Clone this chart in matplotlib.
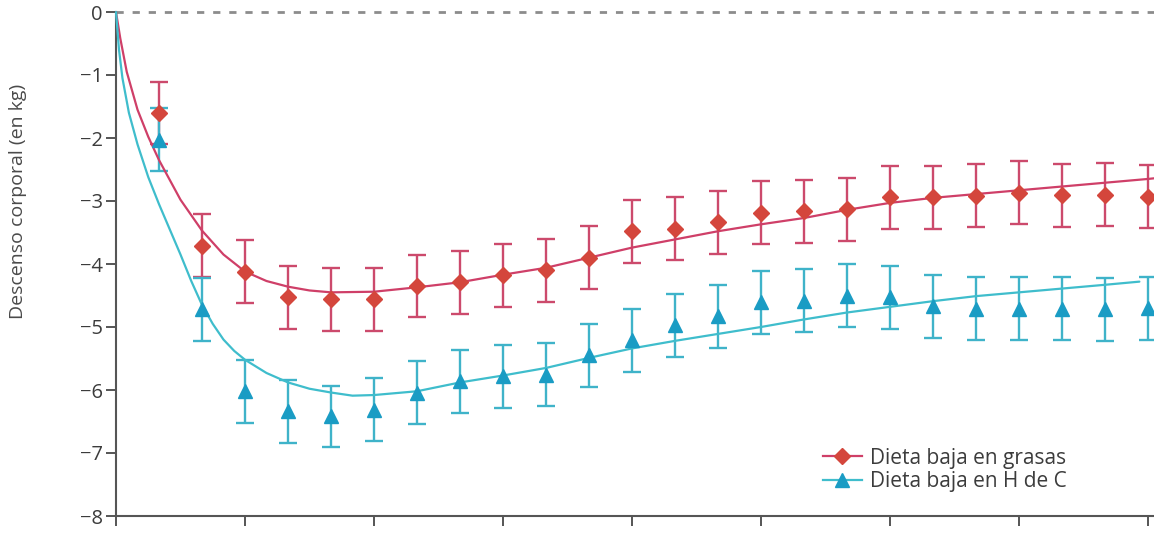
import matplotlib
matplotlib.use('Agg')
import matplotlib.pyplot as plt
from matplotlib.lines import Line2D

# ---- data ----
months = [1, 2, 3, 4, 5, 6, 7, 8, 9, 10, 11, 12,
          13, 14, 15, 16, 17, 18, 19, 20, 21, 22, 23, 24]
low_fat = [-1.60, -3.71, -4.12, -4.53, -4.56, -4.56, -4.35, -4.29, -4.18, -4.10, -3.90, -3.48,
           -3.44, -3.34, -3.19, -3.16, -3.13, -2.94, -2.94, -2.92, -2.87, -2.91, -2.90, -2.93]
low_fat_err = [0.49, 0.50, 0.50, 0.50, 0.50, 0.50, 0.49, 0.50, 0.50, 0.50, 0.50, 0.50,
               0.50, 0.50, 0.50, 0.50, 0.50, 0.50, 0.50, 0.50, 0.50, 0.50, 0.50, 0.50]
low_carb = [-2.03, -4.72, -6.02, -6.34, -6.42, -6.31, -6.04, -5.86, -5.78, -5.76, -5.45, -5.21,
            -4.97, -4.83, -4.61, -4.58, -4.50, -4.53, -4.67, -4.71, -4.71, -4.71, -4.72, -4.70]
low_carb_err = [0.50, 0.50, 0.50, 0.50, 0.48, 0.50, 0.50, 0.50, 0.50, 0.50, 0.50, 0.50,
                0.50, 0.50, 0.50, 0.50, 0.50, 0.50, 0.50, 0.50, 0.50, 0.50, 0.50, 0.50]

# fitted curves
fat_fit_x = [0, 0.1, 0.25, 0.5, 0.75, 1, 1.5, 2, 2.5, 3, 3.5, 4, 4.5, 5, 6, 7, 8, 9, 10, 11, 12,
             13, 14, 15, 16, 17, 18, 19, 20, 21, 22, 23, 24, 24.14]
fat_fit_y = [0, -0.42, -0.95, -1.55, -1.98, -2.35, -2.98, -3.47, -3.85, -4.12, -4.27, -4.36,
             -4.42, -4.45, -4.44, -4.37, -4.29, -4.17, -4.06, -3.90, -3.74, -3.61, -3.48,
             -3.37, -3.27, -3.14, -3.03, -2.95, -2.89, -2.83, -2.77, -2.71, -2.65, -2.64]
carb_fit_x = [0, 0.07, 0.15, 0.3, 0.5, 0.75, 1, 1.25, 1.5, 1.75, 2, 2.25, 2.5, 2.75, 3, 3.5, 4,
              4.5, 5, 5.5, 6, 7, 8, 9, 10, 11, 12, 13, 14, 15, 16, 17, 18, 19, 20, 21, 22, 23,
              23.8]
carb_fit_y = [0, -0.60, -1.05, -1.60, -2.10, -2.62, -3.05, -3.45, -3.85, -4.27, -4.65, -4.95,
              -5.20, -5.38, -5.52, -5.73, -5.88, -5.98, -6.04, -6.09, -6.08, -6.02, -5.88,
              -5.77, -5.65, -5.49, -5.34, -5.22, -5.11, -5.00, -4.88, -4.77, -4.68, -4.59,
              -4.51, -4.45, -4.39, -4.33, -4.28]

x_ticks = [0, 3, 6, 9, 12, 15, 18, 21, 24]
y_ticks = [0, -1, -2, -3, -4, -5, -6, -7, -8]
y_tick_labels = ['0', '\u22121', '\u22122', '\u22123', '\u22124', '\u22125', '\u22126', '\u22127', '\u22128']
y_label = 'Descenso corporal (en kg)'
legend_labels = ['Dieta baja en grasas', 'Dieta baja en H de C']

# ---- style ----
plt.rcParams['font.family'] = ['Open Sans', 'DejaVu Sans']
W, H = 1154, 534
fig = plt.figure(figsize=(W / 100, H / 100), dpi=100)
ax = fig.add_axes([116 / W, 18 / H, (W - 116) / W, 504 / H])

red_line = '#cf3f68'
red_mark = '#d4463c'
red_err = '#cc4a6c'
cyan_line = '#3fbdcc'
cyan_mark = '#1a9cc4'
cyan_err = '#3fb3c9'
axis_col = '#555555'
text_col = '#3c3c3c'

ax.axhline(0, color='#8c8c8c', lw=2.0, ls=(0, (2.6, 3.2)), zorder=1, clip_on=False)

ax.errorbar(months, low_fat, yerr=low_fat_err, fmt='none', ecolor=red_err,
            elinewidth=1.7, capsize=6.5, capthick=1.7, zorder=2)
ax.errorbar(months, low_carb, yerr=low_carb_err, fmt='none', ecolor=cyan_err,
            elinewidth=1.7, capsize=6.5, capthick=1.7, zorder=2)

ax.plot(fat_fit_x, fat_fit_y, color=red_line, lw=1.6, zorder=3, clip_on=False,
        solid_capstyle='round', solid_joinstyle='round')
ax.plot(carb_fit_x, carb_fit_y, color=cyan_line, lw=1.6, zorder=3, clip_on=False,
        solid_capstyle='round', solid_joinstyle='round')

ax.plot(months, low_fat, ls='none', marker='D', ms=8, color=red_mark, mec=red_mark,
        zorder=4, clip_on=False)
ax.plot(months, low_carb, ls='none', marker='^', ms=9.5, color=cyan_mark, mec=cyan_mark,
        zorder=4, clip_on=False)

ax.set_xlim(0, 24.14)
ax.set_ylim(-8, 0)
ax.set_xticks(x_ticks)
ax.set_xticklabels([])
ax.set_yticks(y_ticks)
ax.set_yticklabels(y_tick_labels)

for s in ['top', 'right']:
    ax.spines[s].set_visible(False)
for s in ['left', 'bottom']:
    ax.spines[s].set_color(axis_col)
    ax.spines[s].set_linewidth(1.5)
ax.tick_params(axis='both', direction='out', length=7.5, width=1.4, color=axis_col,
               labelcolor=text_col, labelsize=14.5)
ax.tick_params(axis='y', pad=2)

fig.text(18 / W, 1 - 201 / H, y_label, rotation=90, ha='center', va='center',
         fontsize=14, color='#4a4a4a')

handles = [
    Line2D([0], [0], color=red_line, lw=1.6, marker='D', ms=8, mfc=red_mark, mec=red_mark),
    Line2D([0], [0], color=cyan_line, lw=1.6, marker='^', ms=9.5, mfc=cyan_mark, mec=cyan_mark),
]
leg = ax.legend(handles, legend_labels, loc='upper left',
                bbox_to_anchor=(808 / W, 1 - 433 / H), bbox_transform=fig.transFigure,
                frameon=False, fontsize=15, handlelength=1.9, handletextpad=0.4,
                labelspacing=0.12, borderpad=0.2)
for t in leg.get_texts():
    t.set_color(text_col)

fig.savefig('out.png', dpi=100)
